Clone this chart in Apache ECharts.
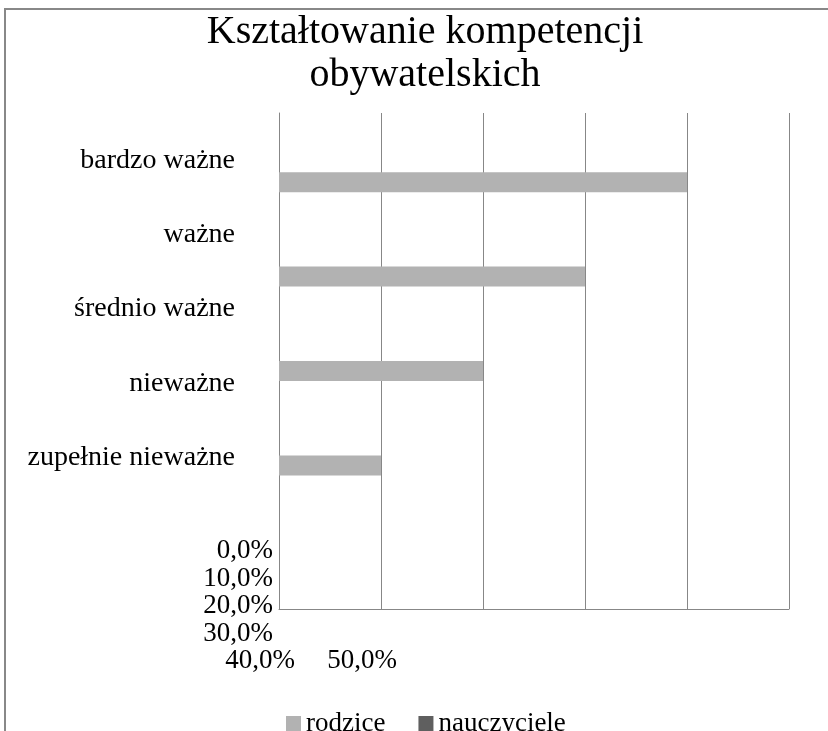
<!DOCTYPE html>
<html>
<head>
<meta charset="utf-8">
<script src="https://cdn.jsdelivr.net/npm/echarts@6/dist/echarts.min.js"></script>
<style>
html, body { margin: 0; padding: 0; background: #fff; }
#container { width: 828px; height: 731px; }
</style>
</head>
<body>
<div id="container"></div>
<script>
// dane
var categories = ['bardzo ważne', 'ważne', 'średnio ważne', 'nieważne', 'zupełnie nieważne'];
var seriesNames = ['rodzice', 'nauczyciele'];
var rodzice = [0.4, 0.3, 0.2, 0.1, 0];
var nauczyciele = [0, 0, 0, 0, 0];
var tickLabels = ['0,0%', '10,0%', '20,0%', '30,0%', '40,0%', '50,0%'];
var axisMin = 0, axisMax = 0.5, axisStep = 0.1;

var FONT = '"Liberation Serif", "DejaVu Serif", serif';
var GRID_COLOR = '#878787';

drawChart();

function drawChart() {
	var myChart = echarts.init(document.getElementById('container'));
	myChart.setOption(getOption());
}

// etykiety osi wartosci - w oryginale Excel je "zawinal" pod nazwami kategorii
function tickLabelGraphics() {
	var items = [];
	for (var i = 0; i < tickLabels.length; i++) {
		var stacked = i < 4;
		items.push({
			type: 'text',
			x: stacked ? 273 : 260 + (i - 4) * 102,
			y: stacked ? 551 + i * 27.5 : 661,
			style: {
				text: tickLabels[i],
				font: '27px ' + FONT,
				fill: '#000',
				align: stacked ? 'right' : 'center',
				verticalAlign: 'middle'
			}
		});
	}
	return items;
}

function getOption() {
	var graphics = [{
		type: 'rect',
		z: -1,
		shape: { x: 5, y: 9, width: 900, height: 900 },
		style: { fill: 'none', stroke: '#888', lineWidth: 2 }
	}].concat(tickLabelGraphics());

	var option = {
		animation: false,
		backgroundColor: '#fff',
		title: {
			text: 'Kształtowanie kompetencji\nobywatelskich',
			left: 425,
			top: 11,
			padding: 0,
			textAlign: 'center',
			textStyle: {
				fontFamily: FONT,
				fontSize: 40,
				fontWeight: 'normal',
				lineHeight: 43,
				color: '#000'
			}
		},
		legend: {
			data: seriesNames,
			left: 286,
			top: 710,
			padding: 0,
			icon: 'rect',
			itemWidth: 15,
			itemHeight: 15,
			itemGap: 33,
			textStyle: { fontFamily: FONT, fontSize: 27, color: '#000' }
		},
		grid: [
			{ left: 279, top: 113, width: 510, height: 496 },
			{ left: 279, top: 135, width: 510, height: 472 },
			{ left: 245, top: 123, width: 10, height: 372 }
		],
		xAxis: [
			{
				gridIndex: 0, type: 'value', min: axisMin, max: axisMax, interval: axisStep,
				axisLine: { show: true, lineStyle: { color: GRID_COLOR, width: 1 } },
				axisTick: { show: false },
				axisLabel: { show: false },
				splitLine: { show: true, lineStyle: { color: GRID_COLOR, width: 1 } }
			},
			{ gridIndex: 1, type: 'value', min: axisMin, max: axisMax, show: false },
			{ gridIndex: 2, type: 'value', min: 0, max: 1, show: false }
		],
		yAxis: [
			{
				gridIndex: 0, type: 'category', data: categories,
				axisLine: { show: true, lineStyle: { color: GRID_COLOR, width: 1 } },
				axisTick: { show: false },
				axisLabel: { show: false },
				splitLine: { show: false }
			},
			{ gridIndex: 1, type: 'category', data: categories, inverse: true, show: false },
			{
				gridIndex: 2, type: 'category', data: categories, inverse: true,
				axisLine: { show: false },
				axisTick: { show: false },
				splitLine: { show: false },
				axisLabel: { margin: 10, fontFamily: FONT, fontSize: 28, color: '#000' }
			}
		],
		series: [
			{
				name: seriesNames[0], type: 'bar', xAxisIndex: 1, yAxisIndex: 1,
				data: rodzice, barWidth: 20, barGap: '-100%',
				itemStyle: { color: '#B2B2B2' }
			},
			{
				name: seriesNames[1], type: 'bar', xAxisIndex: 1, yAxisIndex: 1,
				data: nauczyciele, barWidth: 20, barGap: '-100%',
				itemStyle: { color: '#5F5F5F' }
			}
		],
		graphic: graphics
	};
	return option;
}
</script>
</body>
</html>
